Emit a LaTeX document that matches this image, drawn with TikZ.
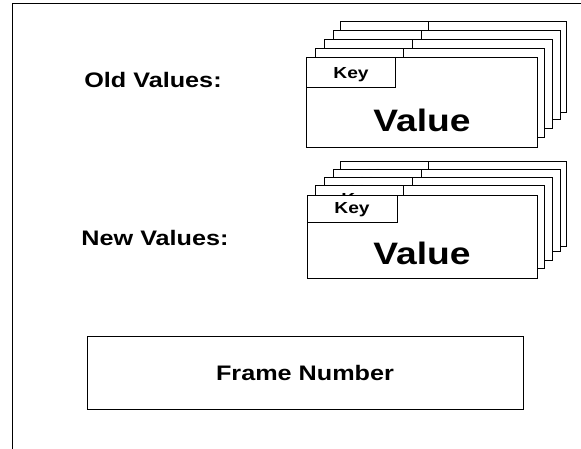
\documentclass[tikz,border=0pt]{standalone}
\usepackage{fontspec}
\setmainfont{Liberation Sans}[FakeStretch=1.2]

\begin{document}
\begin{tikzpicture}[x=1pt,y=-1pt,
	card/.style={draw, fill=white, line width=1pt},
	lbl/.style={font=\bfseries\fontsize{21}{24}\selectfont},
	keytxt/.style={font=\bfseries\fontsize{16}{18}\selectfont},
	valtxt/.style={font=\bfseries\fontsize{31}{36}\selectfont}]
	\useasboundingbox (0,0) rectangle (581,449);

	% frame
	\draw [line width=1pt] (12,449) -- (12,4) -- (581,4);

	% old values
	\draw [card] (340,22) rectangle (566,113) ;
	\draw [card] (340,22) rectangle (428,52) node[keytxt] (ok5) at (384,39) {Key} ;
	\draw [card] (333,31) rectangle (560,120) ;
	\draw [card] (333,31) rectangle (421,61) node[keytxt] (ok4) at (377,48) {Key} ;
	\draw [card] (324,40) rectangle (552,129) ;
	\draw [card] (324,40) rectangle (412,70) node[keytxt] (ok3) at (368,57) {Key} ;
	\draw [card] (315,49) rectangle (544,138) ;
	\draw [card] (315,49) rectangle (403,79) node[keytxt] (ok2) at (359,66) {Key} ;
	\draw [card] (306,58) rectangle (537,148) ;
	\draw [card] (306,58) rectangle (395,88) node[keytxt] (ok1) at (351,75) {Key} ;
	\draw (422,120) node[valtxt] (oval){Value} ;

	% new values
	\draw [card] (340,162) rectangle (566,247) ;
	\draw [card] (340,162) rectangle (428,190) node[keytxt] (nk5) at (384,177) {Key} ;
	\draw [card] (333,170) rectangle (560,252) ;
	\draw [card] (333,170) rectangle (421,198) node[keytxt] (nk4) at (377,185) {Key} ;
	\draw [card] (324,178) rectangle (552,260) ;
	\draw [card] (324,178) rectangle (412,206) node[keytxt] (nk3) at (368,193) {Key} ;
	\draw [card] (315,186) rectangle (544,268) ;
	\draw [card] (315,186) rectangle (403,214) node[keytxt] (nk2) at (359,201) {Key} ;
	\draw [card] (307,196) rectangle (537,278) ;
	\draw [card] (307,196) rectangle (397,223) node[keytxt] (nk1) at (352,210) {Key} ;
	\draw (422,253) node[valtxt] (nval){Value} ;

	% labels
	\draw (153,80) node[lbl] (old){Old Values:} ;
	\draw (155,238) node[lbl] (new){New Values:} ;

	% frame number
	\draw [line width=1pt] (87,336) rectangle (523,409) ;
	\draw (305,373) node[lbl] (frame){Frame Number} ;
\end{tikzpicture}
\end{document}
